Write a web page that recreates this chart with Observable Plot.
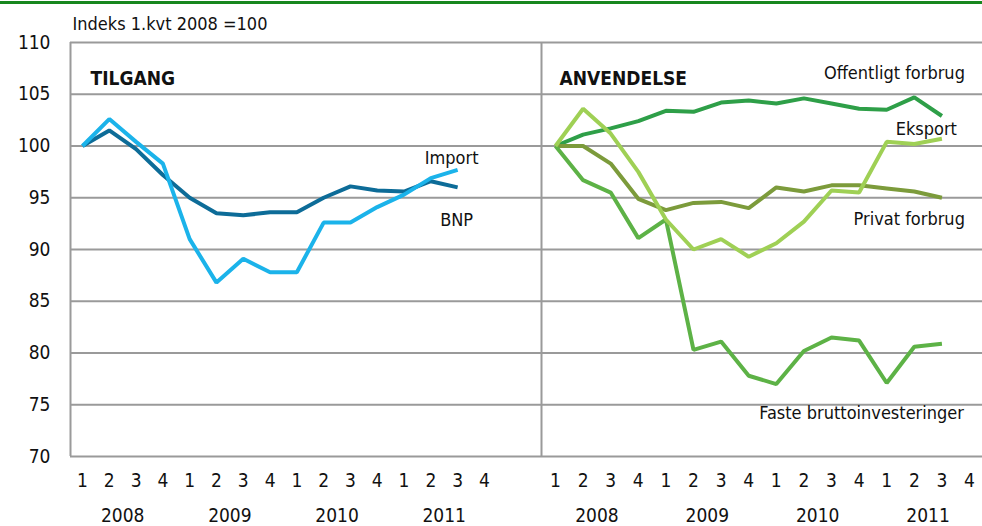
<!DOCTYPE html>
<html>
<head>
<meta charset="utf-8">
<script src="https://cdn.jsdelivr.net/npm/d3@7"></script>
<script src="https://cdn.jsdelivr.net/npm/@observablehq/plot@0.6"></script>
<style>
  html, body { margin: 0; padding: 0; background: #fff; }
  #wrap { position: relative; width: 982px; height: 526px; display: flex; overflow: hidden; }
  #topline { position: absolute; left: 0; top: 1px; width: 982px; height: 3px; background: #17871e; z-index: 5; }
  svg { overflow: visible; }
</style>
</head>
<body>
<div id="wrap"><div id="topline"></div></div>
<script>
const FONT = '"Liberation Sans Narrow", "DejaVu Sans Condensed", "Liberation Sans", sans-serif';

// Data
const quarterLabels = ["1", "2", "3", "4"];
const yearLabels = ["2008", "2009", "2010", "2011"];
const yTicks = [70, 75, 80, 85, 90, 95, 100, 105, 110];
const titleText = "Indeks 1.kvt 2008 =100";

// TILGANG (2008K1 .. 2011K3)
const bnp = [100, 101.5, 99.7, 97.2, 95.0, 93.5, 93.3, 93.6, 93.6, 95.0, 96.1, 95.7, 95.6, 96.6, 96.0];
const importValues = [100, 102.6, 100.4, 98.3, 91.0, 86.8, 89.1, 87.8, 87.8, 92.6, 92.6, 94.1, 95.3, 96.9, 97.7];

// ANVENDELSE
const offentligt = [100, 101.1, 101.7, 102.4, 103.4, 103.3, 104.2, 104.4, 104.1, 104.6, 104.1, 103.6, 103.5, 104.7, 102.9];
const eksport = [100, 103.6, 101.2, 97.5, 92.9, 90.0, 91.0, 89.3, 90.6, 92.7, 95.7, 95.5, 100.4, 100.2, 100.7];
const privat = [100, 100, 98.3, 94.9, 93.8, 94.5, 94.6, 94.0, 96.0, 95.6, 96.2, 96.2, 95.9, 95.6, 95.0];
const faste = [100, 96.7, 95.5, 91.1, 92.9, 80.3, 81.1, 77.8, 77.0, 80.2, 81.5, 81.2, 77.1, 80.6, 80.9];

const rows = (arr) => arr.map((v, i) => ({i, v}));

const GRID = "#9a9a9a";
const xDomL = [-0.448, 17.13];
const xDomR = [-0.507, 15.47];
const quarterIdx = d3.range(16);

function common(xDom) {
  return [
    Plot.ruleY(yTicks, {y: d => d, stroke: GRID, strokeWidth: 2}),
    Plot.ruleX([xDom[0]], {x: d => d, stroke: GRID, strokeWidth: 2}),
    Plot.axisX(quarterIdx, {tickSize: 0, tickPadding: 17, tickFormat: i => quarterLabels[i % 4], fontSize: 19, label: null}),
    Plot.text(yearLabels, {x: (d, k) => k * 4 + 1.5, text: d => d, frameAnchor: "bottom", lineAnchor: "middle", dy: 59, fontSize: 19})
  ];
}

const lineOpts = (color) => ({x: "i", y: "v", stroke: color, strokeWidth: 4, strokeLinejoin: "miter", strokeLinecap: "butt"});
function label(arr, txt, opts) {
  return Plot.text(rows(arr), Plot.selectLast({x: "i", y: "v", text: () => txt, fontSize: 18, lineAnchor: "middle", ...opts}));
}

const left = Plot.plot({
  width: 541, height: 526,
  marginLeft: 70, marginRight: 0, marginTop: 42, marginBottom: 70,
  x: {type: "linear", domain: xDomL, axis: null},
  y: {domain: [70, 110], axis: null},
  style: {fontFamily: FONT, fontSize: "19px", color: "#111", background: "transparent", overflow: "visible"},
  marks: [
    ...common(xDomL),
    Plot.axisY(yTicks, {tickSize: 0, tickPadding: 20, fontSize: 19, label: null}),
    Plot.text([titleText], {text: d => d, frameAnchor: "top-left", lineAnchor: "middle", textAnchor: "start", dx: 2, dy: -18, fontSize: 18}),
    Plot.text(["TILGANG"], {text: d => d, frameAnchor: "top-left", lineAnchor: "middle", textAnchor: "start", dx: 20, dy: 36, fontSize: 19, fontWeight: "bold"}),
    Plot.line(rows(bnp), lineOpts("#0d6c98")),
    Plot.line(rows(importValues), lineOpts("#1bb3ea")),
    label(importValues, "Import", {textAnchor: "middle", dx: -6, dy: -12}),
    label(bnp, "BNP", {textAnchor: "middle", dx: -1, dy: 33})
  ]
});

const right = Plot.plot({
  width: 441, height: 526,
  marginLeft: 0, marginRight: 0, marginTop: 42, marginBottom: 70,
  x: {type: "linear", domain: xDomR, axis: null},
  y: {domain: [70, 110], axis: null},
  style: {fontFamily: FONT, fontSize: "19px", color: "#111", background: "transparent", overflow: "visible"},
  marks: [
    ...common(xDomR),
    Plot.text(["ANVENDELSE"], {text: d => d, frameAnchor: "top-left", lineAnchor: "middle", textAnchor: "start", dx: 18, dy: 36, fontSize: 19, fontWeight: "bold"}),
    Plot.line(rows(offentligt), lineOpts("#2e9f48")),
    Plot.line(rows(privat), lineOpts("#7c9b3b")),
    Plot.line(rows(faste), lineOpts("#5db246")),
    Plot.line(rows(eksport), lineOpts("#9fd055")),
    label(offentligt, "Offentligt forbrug", {textAnchor: "end", dx: 23, dy: -43}),
    label(eksport, "Eksport", {textAnchor: "end", dx: 15, dy: -10}),
    label(privat, "Privat forbrug", {textAnchor: "end", dx: 23, dy: 21}),
    label(faste, "Faste bruttoinvesteringer", {textAnchor: "end", dx: 22, dy: 70})
  ]
});

const wrap = document.getElementById("wrap");
wrap.appendChild(left);
wrap.appendChild(right);
</script>
</body>
</html>
